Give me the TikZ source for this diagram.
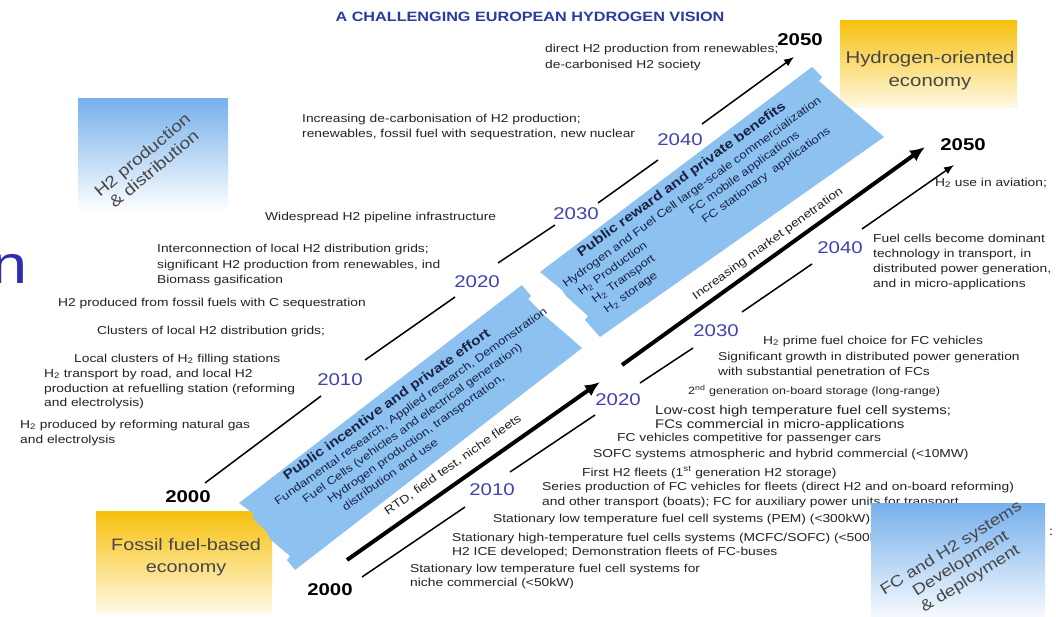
\documentclass[tikz,border=0pt]{standalone}
\usepackage{fontspec}
\setmainfont{Liberation Sans}[FakeStretch=1.2]
\usetikzlibrary{arrows.meta}
\definecolor{bandblue}{RGB}{140,193,240}
\definecolor{boxblue}{RGB}{118,176,236}
\definecolor{goldc}{RGB}{247,192,12}
\definecolor{paleyel}{RGB}{255,248,226}
\definecolor{yearblue}{RGB}{66,66,176}
\definecolor{titleblue}{RGB}{40,60,160}
\definecolor{txtc}{RGB}{35,35,35}
\definecolor{boxtxtc}{RGB}{70,70,70}
\definecolor{bandtxtc}{RGB}{25,35,70}
\definecolor{nblue}{RGB}{45,45,175}
\newcommand{\myfs}[1]{\fontsize{#1}{#1}\selectfont}
\newcommand{\myfsb}[2]{\fontsize{#1}{#2}\selectfont}
\begin{document}
\begin{tikzpicture}[x=1pt,y=-1pt,
  desc/.style={font=\myfs{11.5}, text=txtc, inner sep=0pt, anchor=base west},
  descb/.style={desc, font=\myfs{12.5}},
  descs/.style={desc, font=\myfs{10.5}},
  yr/.style={font=\myfs{17}, text=yearblue, inner sep=0pt},
  yrb/.style={font=\bfseries\myfs{17}, text=black, inner sep=0pt},
  tl/.style={line width=1.5pt, black},
  tla/.style={tl, -{Latex[length=10pt,width=8pt]}},
  tk/.style={line width=4pt, black, -{Latex[length=15pt,width=13pt]}},
  bluebox/.style={inner sep=0pt, top color=boxblue, bottom color=white, draw=none},
  goldbox/.style={inner sep=0pt, top color=goldc, bottom color=paleyel, draw=none},
  boxtxt/.style={text=boxtxtc, inner sep=0pt, align=center},
  bandline/.style={text=bandtxtc, inner sep=0pt, anchor=base west, transform shape, font=\myfs{11}},
  bandhead/.style={bandline, font=\bfseries\myfs{13}},
  bandfill/.style={fill=bandblue, draw=none}
]
\path[use as bounding box] (0,0) rectangle (1056,616);
\clip (0,0) rectangle (1056,616);
\fill[white] (0,0) rectangle (1056,616);

% fragments of slide text
\node[anchor=base west, inner sep=0pt, text=nblue, font=\myfs{54}] (frag1) at (-9,283) {n};
\node[inner sep=0pt, text=txtc, font=\myfs{12}] (frag2) at (1051,532) {:};

% title
\node[inner sep=0pt, text=titleblue, font=\bfseries\myfs{13.5}] (title) at (530,17) {A CHALLENGING EUROPEAN HYDROGEN VISION};

% boxes
\node[bluebox, minimum width=150pt, minimum height=114pt] (boxh2) at (153,155) {};
\node[boxtxt, rotate=40, font=\myfsb{16}{18}] (boxh2t) at (148,162) {H2 production\\\& distribution};
\node[goldbox, minimum width=177pt, minimum height=87pt] (boxheco) at (928.5,63.5) {};
\node[boxtxt, font=\myfsb{17}{23}] (boxhecot) at (930,71) {Hydrogen-oriented\\economy};
\node[goldbox, minimum width=176pt, minimum height=101pt] (boxfos) at (184,561.5) {};
\node[boxtxt, font=\myfsb{16.5}{22}] (boxfost) at (186,557) {Fossil fuel-based\\economy};

% bands
\path[bandfill] (239,503) -- (522,285) -- (531,296) -- (528,299) -- (545,316) -- (582,348) -- (295,570) -- (287,560) -- (290,556) -- (271,540) -- (266,531) -- (252,518) -- (254,514) -- cycle;
\path[bandfill] (540,272) -- (812,67) -- (822,77) -- (819,81) -- (850,108) -- (884,137) -- (600,337) -- (585,320) -- (588,316) -- (566,296) -- (562,290) -- cycle;

\begin{scope}[shift={(287,481)}, rotate=35.5]
  \node[bandhead] (bt1a) at (0,0) {Public incentive and private effort};
  \node[bandline] (bt1b) at (-22,15) {Fundamental research, Applied research, Demonstration};
  \node[bandline] (bt1c) at (2,29.5) {Fuel Cells (vehicles and electrical generation)};
  \node[bandline] (bt1d) at (22,44) {Hydrogen production, transportation,};
  \node[bandline] (bt1e) at (30,58.5) {distribution and use};
\end{scope}
\begin{scope}[shift={(566,288)}, rotate=36]
  \node[bandhead] (bt2a) at (30,-16) {Public reward and private benefits};
  \node[bandline] (bt2b) at (0,0) {Hydrogen and Fuel Cell large-scale commercialization};
  \node[bandline] (bt2c) at (8,15) {H\textsubscript{2} Production};
  \node[bandline] (bt2d) at (145,15) {FC mobile applications};
  \node[bandline] (bt2e) at (14,30) {H\textsubscript{2} Transport};
  \node[bandline] (bt2f) at (150,30) {FC stationary\ \ applications};
  \node[bandline] (bt2g) at (18,45) {H\textsubscript{2} storage};
\end{scope}

% upper-left descriptions
\node[desc] (d1) at (545,52) {direct H2 production from renewables;};
\node[desc] (d2) at (545,68) {de-carbonised H2 society};
\node[desc] (d3) at (302,122) {Increasing de-carbonisation of H2 production;};
\node[desc] (d4) at (302,137) {renewables, fossil fuel with sequestration, new nuclear};
\node[desc] (d5) at (265,220) {Widespread H2 pipeline infrastructure};
\node[desc] (d6) at (157,252) {Interconnection of local H2 distribution grids;};
\node[desc] (d7) at (157,268) {significant H2 production from renewables, ind};
\node[desc] (d8) at (157,283) {Biomass gasification};
\node[desc] (d9) at (58,306) {H2 produced from fossil fuels with C sequestration};
\node[desc] (d10) at (97,334) {Clusters of local H2 distribution grids;};
\node[desc] (d11) at (74,362) {Local clusters of H\textsubscript{2} filling stations};
\node[desc] (d12) at (44,377) {H\textsubscript{2} transport by road, and local H2};
\node[desc] (d13) at (44,392) {production at refuelling station (reforming};
\node[desc] (d14) at (44,406) {and electrolysis)};
\node[desc] (d15) at (20,428) {H\textsubscript{2} produced by reforming natural gas};
\node[desc] (d16) at (20,443) {and electrolysis};

% right descriptions
\node[desc] (r1) at (935,186) {H\textsubscript{2} use in aviation;};
\node[desc] (r2) at (873,242) {Fuel cells become dominant};
\node[desc] (r3) at (873,257) {technology in transport, in};
\node[desc] (r4) at (873,272) {distributed power generation,};
\node[desc] (r5) at (873,287) {and in micro-applications};

% bottom-right descriptions
\node[desc] (b1) at (763,344) {H\textsubscript{2} prime fuel choice for FC vehicles};
\node[desc] (b2) at (718,360) {Significant growth in distributed power generation};
\node[desc] (b3) at (718,375) {with substantial penetration of FCs};
\node[descs] (b4) at (688,394) {2\textsuperscript{nd} generation on-board storage (long-range)};
\node[descb] (b5) at (655,414) {Low-cost high temperature fuel cell systems;};
\node[descb] (b6) at (655,428) {FCs commercial in micro-applications};
\node[desc] (b7) at (617,441) {FC vehicles competitive for passenger cars};
\node[desc] (b8) at (593,457) {SOFC systems atmospheric and hybrid commercial (<10MW)};
\node[desc] (b9) at (582,476) {First H2 fleets (1\textsuperscript{st} generation H2 storage)};
\node[desc] (b10) at (542,490) {Series production of FC vehicles for fleets (direct H2 and on-board reforming)};
\node[desc] (b11) at (542,505) {and other transport (boats); FC for auxiliary power units for transport};
\node[desc] (b12) at (493,522) {Stationary low temperature fuel cell systems (PEM) (<300kW)};
\node[desc] (b13) at (452,541) {Stationary high-temperature fuel cells systems (MCFC/SOFC) (<500kW)};
\node[desc] (b14) at (452,555) {H2 ICE developed; Demonstration fleets of FC-buses};
\node[desc] (b15) at (410,572) {Stationary low temperature fuel cell systems for};
\node[desc] (b16) at (410,586) {niche commercial (<50kW)};

% FC box (covers line ends)
\node[bluebox, minimum width=174pt, minimum height=122pt] (boxfc) at (958,564) {};
\node[boxtxt, rotate=32, font=\myfsb{15.5}{18}] (boxfct) at (961,564) {FC and H2 systems\\Development\\\& deployment};

% upper timeline
\node[yrb] (yu0) at (188,497) {2000};
\node[yr] (yu1) at (340,380) {2010};
\node[yr] (yu2) at (477,282) {2020};
\node[yr] (yu3) at (576,214) {2030};
\node[yr] (yu4) at (680,140) {2040};
\node[yrb] (yu5) at (800,40) {2050};
\coordinate (u0a) at (205,483); \coordinate (u0b) at (321,396);
\coordinate (u1a) at (365,360); \coordinate (u1b) at (455,297);
\coordinate (u2a) at (498,263); \coordinate (u2b) at (555,225);
\coordinate (u3a) at (598,203); \coordinate (u3b) at (658,160);
\coordinate (u4a) at (702,124); \coordinate (u4b) at (794,57);
\draw[tl] (u0a) -- (u0b);
\draw[tl] (u1a) -- (u1b);
\draw[tl] (u2a) -- (u2b);
\draw[tl] (u3a) -- (u3b);
\draw[tla] (u4a) -- (u4b);

% lower timeline
\node[yrb] (yl0) at (330,590) {2000};
\node[yr] (yl1) at (492,490) {2010};
\node[yr] (yl2) at (618,400) {2020};
\node[yr] (yl3) at (716,331) {2030};
\node[yr] (yl4) at (840,248) {2040};
\node[yrb] (yl5) at (963,145) {2050};
\coordinate (l0a) at (362,577); \coordinate (l0b) at (465,507);
\coordinate (l1a) at (510,472); \coordinate (l1b) at (595,415);
\coordinate (l2a) at (640,383); \coordinate (l2b) at (693,348);
\coordinate (l3a) at (742,312); \coordinate (l3b) at (812,264);
\coordinate (l4a) at (862,229); \coordinate (l4b) at (954,165);
\draw[tl] (l0a) -- (l0b);
\draw[tl] (l1a) -- (l1b);
\draw[tl] (l2a) -- (l2b);
\draw[tl] (l3a) -- (l3b);
\draw[tla] (l4a) -- (l4b);

% thick market arrow
\coordinate (t0a) at (347,560); \coordinate (t0b) at (600,382);
\coordinate (t1a) at (622,365); \coordinate (t1b) at (925,147);
\draw[tk] (t0a) -- (t0b);
\draw[tk] (t1a) -- (t1b);
\node[desc, anchor=center, rotate=35.5] (rtd) at (453,465) {RTD, field test, niche fleets};
\node[desc, anchor=center, rotate=36] (imp) at (768,244) {Increasing market penetration};
\end{tikzpicture}
\end{document}
